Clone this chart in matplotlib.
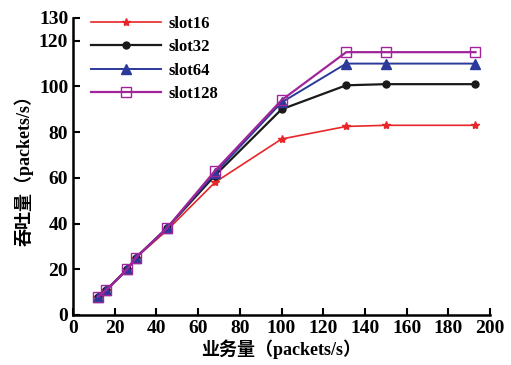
import matplotlib.pyplot as plt

plt.rcParams['font.family'] = ['Liberation Serif', 'Noto Sans CJK SC']
plt.rcParams['font.weight'] = 'bold'

# traffic load (packets/s)
x = [12, 16, 26, 30, 45, 68, 100, 131, 150, 193]

slot16 = [8, 11, 20, 25, 37, 58, 77, 82.5, 83, 83]
slot32 = [8, 11, 20, 25, 38, 61, 90, 100.5, 101, 101]
slot64 = [8, 11, 20, 25, 38, 62, 93, 110, 110, 110]
slot128 = [8, 11, 20, 25, 38, 63, 94, 115, 115, 115]

xticks = [0, 20, 40, 60, 80, 100, 120, 140, 160, 180, 200]
yticks = [0, 20, 40, 60, 80, 100, 120, 130]

fig = plt.figure(figsize=(5.11, 3.65), dpi=100)
ax = fig.add_axes([0.143, 0.137, 0.816, 0.814])

ax.plot(x, slot16, color='#e8262a', lw=1.2, marker='*', ms=6, label='slot16')
ax.plot(x, slot32, color='#1a1a1a', lw=1.6, marker='o', ms=5, label='slot32')
ax.plot(x, slot64, color='#2b3a9a', lw=1.4, marker='^', ms=7, label='slot64')
ax.plot(x, slot128, color='#a0259a', lw=1.6, marker='s', ms=7, mfc='none', label='slot128')

ax.set_xlim(0, 200)
ax.set_ylim(0, 130)
ax.set_xticks(xticks)
ax.set_yticks(yticks)
ax.tick_params(direction='in', length=5, width=1.5, labelsize=14)
for s in ['top', 'right']:
    ax.spines[s].set_visible(False)
for s in ['left', 'bottom']:
    ax.spines[s].set_linewidth(1.8)

ax.set_xlabel('业务量（packets/s）', fontsize=13, fontweight='bold', labelpad=2)
ax.set_ylabel('吞吐量（packets/s）', fontsize=13, fontweight='bold', labelpad=4)

ax.legend(loc='upper left', bbox_to_anchor=(0.008, 1.058), frameon=False, fontsize=12,
          handlelength=4.2, handletextpad=0.4, labelspacing=0.45)

fig.savefig('out.png', dpi=100)
